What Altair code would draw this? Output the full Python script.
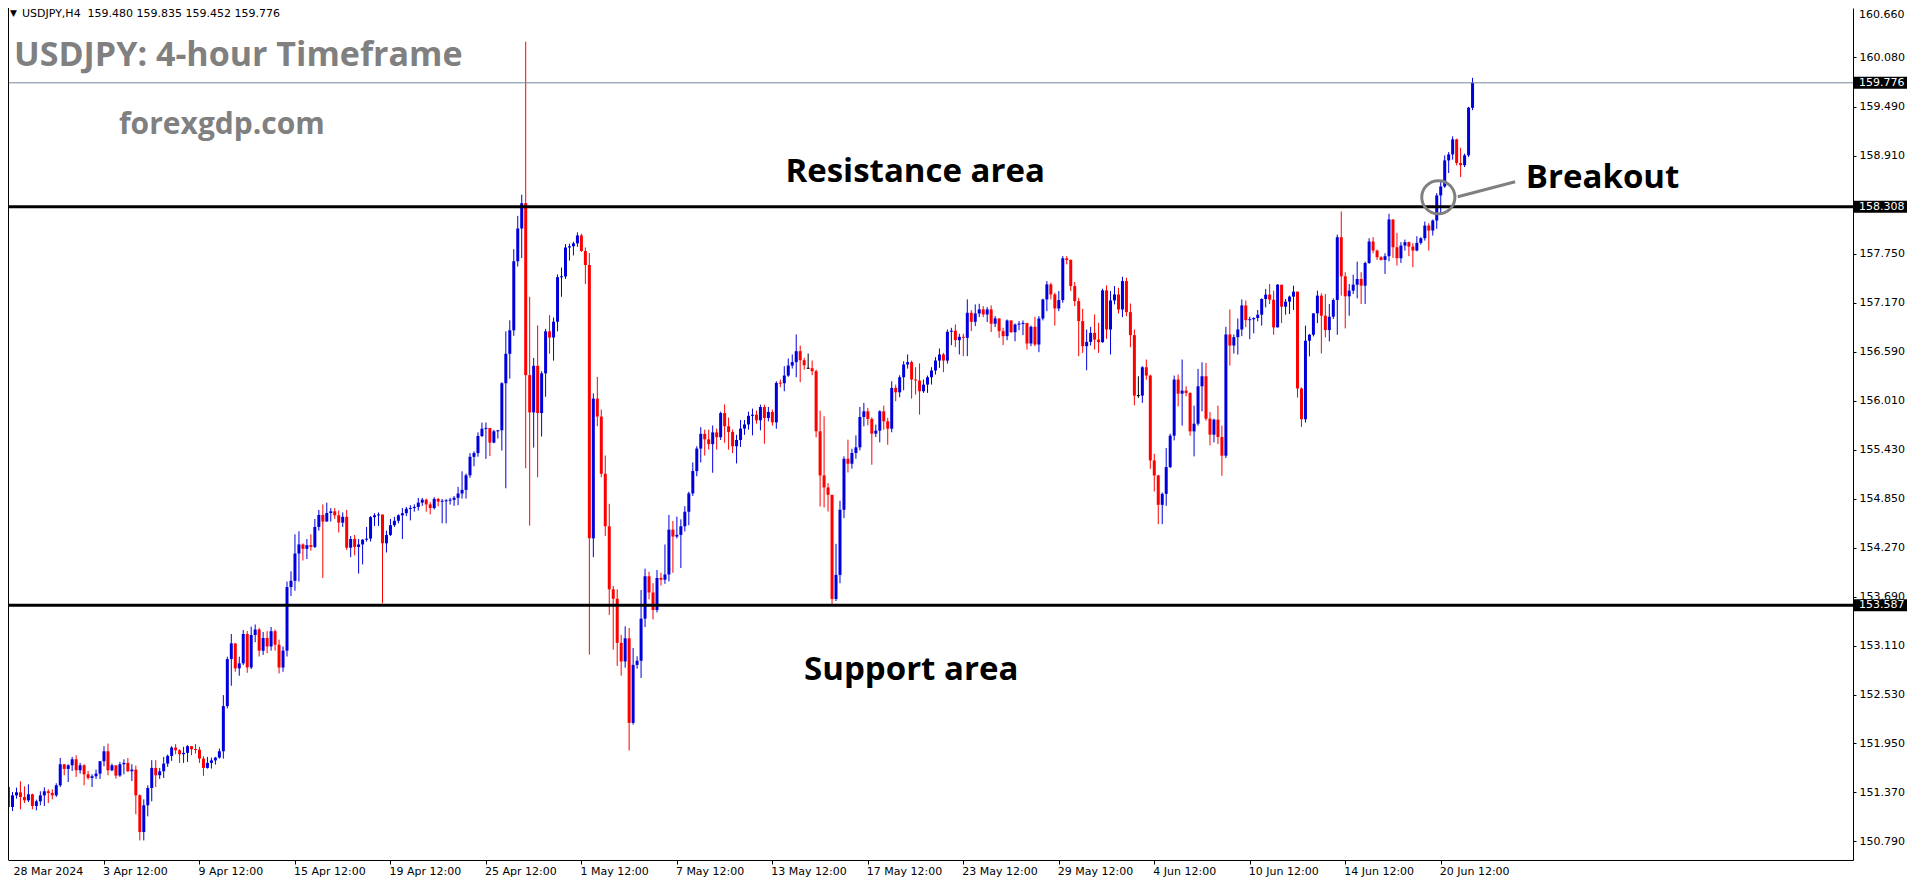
import altair as alt
import pandas as pd

# ---------------- data (USDJPY H4) ----------------
first_open = 151.435
open_overrides = {201: 156.395, 368: 159.480}

closes = [
    151.198, 151.336, 151.372, 151.316, 151.277, 151.348, 151.210, 151.265, 151.336, 151.384,
    151.364, 151.336, 151.455, 151.704, 151.649, 151.692, 151.763, 151.633, 151.692, 151.585,
    151.542, 151.562, 151.593, 151.740, 151.858, 151.633, 151.692, 151.570, 151.704, 151.720,
    151.621, 151.641, 151.336, 150.901, 151.218, 151.423, 151.661, 151.574, 151.621, 151.712,
    151.803, 151.902, 151.870, 151.823, 151.839, 151.918, 151.882, 151.876, 151.771, 151.661,
    151.720, 151.750, 151.783, 151.858, 152.393, 152.950, 153.136, 152.840, 152.899, 153.247,
    152.851, 153.235, 153.300, 153.050, 153.200, 153.100, 153.280, 153.120, 152.850, 153.050,
    153.803, 153.877, 154.200, 154.308, 154.256, 154.299, 154.278, 154.515, 154.657, 154.579,
    154.680, 154.700, 154.653, 154.566, 154.635, 154.269, 154.372, 154.278, 154.308, 154.364,
    154.377, 154.631, 154.653, 154.662, 154.321, 154.420, 154.536, 154.588, 154.653, 154.678,
    154.730, 154.739, 154.752, 154.803, 154.838, 154.782, 154.739, 154.847, 154.816, 154.822,
    154.828, 154.836, 154.860, 154.911, 154.954, 155.127, 155.346, 155.390, 155.592, 155.678,
    155.687, 155.514, 155.648, 155.660, 156.217, 156.566, 156.844, 157.662, 158.050, 158.350,
    156.313, 155.872, 156.424, 155.864, 156.334, 156.832, 156.759, 156.946, 157.474, 157.482,
    157.825, 157.840, 157.874, 157.968, 157.784, 157.617, 154.380, 156.035, 155.823, 155.145,
    154.523, 153.776, 153.665, 153.142, 152.922, 153.196, 152.194, 152.881, 152.930, 153.429,
    153.931, 153.739, 153.531, 153.911, 153.890, 153.952, 154.483, 154.401, 154.421, 154.523,
    154.695, 154.912, 155.177, 155.443, 155.618, 155.553, 155.496, 155.635, 155.578, 155.864,
    155.708, 155.639, 155.471, 155.545, 155.680, 155.729, 155.831, 155.845, 155.778, 155.936,
    155.806, 155.877, 155.754, 156.221, 156.217, 156.308, 156.427, 156.467, 156.597, 156.490,
    156.431, 156.395, 156.360, 155.648, 155.125, 154.983, 154.896, 153.662, 153.947, 154.718,
    155.323, 155.264, 155.391, 155.458, 155.818, 155.885, 155.794, 155.620, 155.656, 155.885,
    155.766, 155.679, 156.162, 156.110, 156.288, 156.439, 156.467, 156.261, 156.249, 156.122,
    156.201, 156.288, 156.368, 156.486, 156.558, 156.486, 156.827, 156.840, 156.728, 156.767,
    156.755, 157.052, 156.945, 157.044, 157.092, 157.032, 157.092, 156.922, 156.985, 156.834,
    156.775, 156.961, 156.822, 156.913, 156.921, 156.930, 156.688, 156.886, 156.676, 156.984,
    157.210, 157.388, 157.269, 157.103, 157.202, 157.697, 157.677, 157.368, 157.190, 156.953,
    156.656, 156.707, 156.814, 156.735, 156.704, 157.317, 156.854, 157.198, 157.269, 157.091,
    157.427, 157.060, 156.787, 156.071, 156.071, 156.407, 156.308, 155.303, 155.125, 154.777,
    154.907, 155.224, 155.596, 156.261, 156.094, 156.130, 156.102, 155.647, 155.738, 156.181,
    156.300, 155.798, 155.608, 155.786, 155.580, 155.359, 156.795, 156.664, 156.763, 156.854,
    157.139, 156.965, 156.975, 156.990, 157.029, 157.215, 157.267, 157.207, 156.879, 157.385,
    157.124, 157.184, 157.243, 157.302, 156.155, 155.791, 156.721, 156.792, 157.045, 157.255,
    157.017, 156.847, 157.005, 157.203, 157.947, 157.484, 157.247, 157.314, 157.385, 157.452,
    157.373, 157.642, 157.896, 157.789, 157.710, 157.678, 157.722, 158.157, 157.828, 157.698,
    157.848, 157.888, 157.836, 157.789, 157.880, 157.935, 158.085, 158.026, 158.145, 158.442,
    158.548, 158.857, 158.928, 159.106, 158.825, 158.800, 158.917, 159.482, 159.776,
]

highs = [
    151.502, 151.376, 151.427, 151.502, 151.443, 151.467, 151.356, 151.285, 151.384, 151.431,
    151.407, 151.407, 151.479, 151.779, 151.704, 151.704, 151.791, 151.811, 151.720, 151.704,
    151.625, 151.585, 151.641, 151.740, 151.918, 151.949, 151.712, 151.653, 151.732, 151.763,
    151.779, 151.704, 151.688, 151.348, 151.289, 151.455, 151.752, 151.752, 151.661, 151.791,
    151.819, 151.918, 151.942, 151.882, 151.910, 151.930, 151.918, 151.942, 151.910, 151.799,
    151.791, 151.783, 151.791, 151.890, 152.523, 152.978, 153.247, 153.136, 152.978, 153.294,
    153.283, 153.334, 153.360, 153.320, 153.270, 153.280, 153.330, 153.300, 153.180, 153.100,
    153.868, 153.989, 154.428, 154.463, 154.321, 154.372, 154.428, 154.609, 154.717, 154.782,
    154.803, 154.739, 154.739, 154.709, 154.687, 154.717, 154.407, 154.420, 154.372, 154.372,
    154.515, 154.644, 154.678, 154.687, 154.660, 154.472, 154.609, 154.635, 154.665, 154.739,
    154.752, 154.773, 154.782, 154.859, 154.859, 154.851, 154.808, 154.868, 154.859, 154.847,
    154.845, 154.860, 154.881, 154.989, 155.174, 155.148, 155.390, 155.411, 155.635, 155.752,
    155.752, 155.687, 155.665, 155.665, 156.230, 156.832, 156.963, 157.805, 158.200, 158.450,
    160.262, 157.241, 156.517, 156.902, 156.360, 156.861, 157.024, 156.996, 157.506, 157.588,
    157.866, 157.870, 157.894, 158.005, 157.988, 157.825, 157.760, 156.097, 156.293, 155.905,
    155.361, 154.789, 153.817, 153.776, 153.236, 153.338, 153.318, 153.081, 152.983, 153.768,
    154.021, 153.984, 153.849, 154.005, 153.972, 154.307, 154.658, 154.585, 154.638, 154.605,
    154.761, 154.932, 155.279, 155.471, 155.696, 155.668, 155.668, 155.717, 155.680, 155.880,
    155.966, 155.811, 155.668, 155.606, 155.782, 155.782, 155.880, 155.917, 155.893, 155.964,
    155.964, 155.936, 155.905, 156.241, 156.261, 156.419, 156.510, 156.558, 156.795, 156.664,
    156.518, 156.569, 156.486, 156.380, 155.893, 155.826, 155.034, 154.868, 154.315, 154.825,
    155.351, 155.549, 155.442, 155.600, 155.936, 155.984, 155.925, 155.814, 155.727, 155.897,
    155.952, 155.806, 156.241, 156.201, 156.312, 156.478, 156.558, 156.486, 156.407, 156.451,
    156.261, 156.308, 156.407, 156.526, 156.629, 156.577, 156.854, 156.874, 156.914, 156.803,
    156.803, 157.210, 157.084, 157.151, 157.159, 157.131, 157.119, 157.139, 157.013, 156.985,
    156.874, 156.973, 156.961, 156.925, 156.953, 156.961, 156.933, 156.901, 157.004, 157.012,
    157.218, 157.427, 157.408, 157.289, 157.309, 157.724, 157.724, 157.685, 157.416, 157.230,
    157.099, 156.854, 156.886, 157.032, 156.933, 157.337, 157.376, 157.309, 157.368, 157.348,
    157.479, 157.467, 157.162, 156.854, 156.300, 156.419, 156.498, 156.320, 155.382, 155.133,
    154.923, 155.449, 155.620, 156.308, 156.320, 156.498, 156.181, 156.110, 155.952, 156.387,
    156.466, 156.458, 155.877, 155.798, 155.952, 155.715, 156.885, 157.091, 156.795, 156.984,
    157.210, 157.198, 157.005, 156.998, 157.085, 157.223, 157.334, 157.393, 157.314, 157.393,
    157.373, 157.215, 157.255, 157.373, 157.302, 156.167, 156.899, 156.800, 157.045, 157.314,
    157.282, 157.274, 157.156, 157.223, 157.979, 158.252, 157.532, 157.393, 157.504, 157.658,
    157.532, 157.658, 157.935, 157.947, 157.801, 157.722, 157.757, 158.224, 158.157, 157.998,
    157.888, 157.919, 157.896, 157.876, 157.959, 157.947, 158.133, 158.113, 158.157, 158.469,
    158.600, 158.916, 158.956, 159.142, 159.114, 159.007, 158.937, 159.490, 159.835,
]

lows = [
    151.178, 151.150, 151.297, 151.170, 151.245, 151.257, 151.170, 151.158, 151.218, 151.210,
    151.245, 151.289, 151.317, 151.435, 151.574, 151.494, 151.625, 151.554, 151.593, 151.455,
    151.522, 151.435, 151.530, 151.530, 151.680, 151.574, 151.621, 151.534, 151.554, 151.585,
    151.613, 151.506, 151.111, 150.802, 150.802, 151.087, 151.265, 151.435, 151.530, 151.542,
    151.673, 151.744, 151.823, 151.720, 151.720, 151.732, 151.811, 151.831, 151.720, 151.566,
    151.653, 151.653, 151.700, 151.771, 151.771, 152.365, 152.634, 152.800, 152.753, 152.879,
    152.788, 152.832, 153.150, 152.980, 153.000, 153.020, 153.050, 153.050, 152.780, 152.800,
    152.980, 153.696, 153.760, 153.868, 154.118, 154.135, 154.234, 154.265, 154.472, 153.911,
    154.579, 154.579, 154.610, 154.450, 154.515, 154.243, 154.157, 154.178, 153.963, 154.071,
    154.342, 154.342, 154.527, 154.527, 153.610, 154.213, 154.407, 154.515, 154.558, 154.372,
    154.644, 154.592, 154.696, 154.709, 154.765, 154.696, 154.665, 154.722, 154.760, 154.558,
    154.558, 154.780, 154.765, 154.773, 154.851, 154.851, 155.097, 155.234, 155.347, 155.579,
    155.321, 155.355, 155.506, 155.562, 155.420, 154.973, 156.272, 156.779, 157.600, 157.700,
    155.210, 154.532, 155.455, 155.104, 155.586, 156.056, 156.566, 156.485, 156.832, 157.241,
    157.453, 157.670, 157.731, 157.833, 157.772, 157.392, 153.003, 154.156, 155.708, 155.104,
    154.409, 153.473, 153.061, 152.869, 152.754, 152.848, 151.867, 152.174, 152.836, 152.726,
    153.330, 153.657, 153.420, 153.502, 153.821, 153.841, 153.870, 153.972, 154.380, 154.029,
    154.462, 154.536, 154.883, 155.116, 155.279, 155.361, 155.431, 155.157, 155.431, 155.545,
    155.512, 155.431, 155.390, 155.267, 155.463, 155.606, 155.668, 155.600, 155.739, 155.660,
    155.501, 155.766, 155.715, 155.679, 156.170, 156.122, 156.293, 156.391, 156.288, 156.229,
    156.379, 156.387, 156.312, 155.576, 154.757, 154.746, 154.698, 153.598, 153.638, 153.848,
    154.619, 155.161, 155.205, 155.323, 155.422, 155.707, 155.719, 155.252, 155.580, 155.517,
    155.667, 155.489, 155.636, 156.004, 156.051, 156.134, 156.391, 156.035, 156.083, 155.845,
    156.103, 156.103, 156.202, 156.320, 156.399, 156.348, 156.451, 156.668, 156.645, 156.558,
    156.538, 156.538, 156.835, 156.894, 157.001, 157.001, 156.941, 156.823, 156.882, 156.755,
    156.668, 156.727, 156.814, 156.715, 156.846, 156.787, 156.617, 156.656, 156.656, 156.585,
    156.961, 157.071, 157.210, 156.901, 157.071, 157.170, 157.625, 157.309, 157.131, 156.537,
    156.577, 156.371, 156.664, 156.617, 156.577, 156.696, 156.743, 156.557, 157.151, 157.044,
    157.000, 157.012, 156.644, 155.956, 156.043, 155.984, 156.260, 155.204, 154.935, 154.548,
    154.548, 154.765, 155.212, 155.540, 155.944, 155.715, 156.063, 155.596, 155.351, 155.715,
    155.885, 155.774, 155.481, 155.517, 155.497, 155.121, 155.331, 156.427, 156.569, 156.557,
    156.775, 156.882, 156.740, 156.808, 156.950, 156.899, 157.116, 157.156, 156.792, 156.879,
    156.930, 157.029, 157.037, 157.085, 156.048, 155.700, 155.751, 156.535, 156.772, 156.930,
    156.570, 156.760, 156.713, 156.978, 156.792, 157.255, 156.867, 157.017, 157.274, 157.223,
    157.156, 157.156, 157.631, 157.757, 157.678, 157.670, 157.512, 157.662, 157.702, 157.611,
    157.642, 157.789, 157.722, 157.591, 157.781, 157.860, 157.907, 157.789, 157.967, 158.046,
    158.232, 158.532, 158.707, 158.865, 158.798, 158.659, 158.778, 158.896, 159.452,
]

x_tick_bars = [0, 24, 48, 72, 96, 120, 144, 168, 192, 216, 240, 264, 288, 312, 336, 360]
x_tick_labels = ["28 Mar 2024", "3 Apr 12:00", "9 Apr 12:00", "15 Apr 12:00", "19 Apr 12:00",
                 "25 Apr 12:00", "1 May 12:00", "7 May 12:00", "13 May 12:00", "17 May 12:00",
                 "23 May 12:00", "29 May 12:00", "4 Jun 12:00", "10 Jun 12:00", "14 Jun 12:00",
                 "20 Jun 12:00"]
y_tick_values = [160.660, 160.080, 159.490, 158.910, 157.750, 157.170, 156.590, 156.010,
                 155.430, 154.850, 154.270, 153.690, 153.110, 152.530, 151.950, 151.370, 150.790]

resistance = 158.308
support = 153.587

# annotations anchored to (bar index, price)
center_notes = ["Resistance area", "Support area"]
center_note_bar = [227.9, 226.9]
center_note_price = [158.600, 152.700]
breakout_note = ["Breakout"]
breakout_bar = [381.4]
breakout_price = [158.530]
circle_bar = [359.4]
circle_price = [158.420]
connector_bar = [364.3]
connector_bar2 = [378.7]
connector_price = [158.427]
connector_price2 = [158.604]

# ---------------- build table ----------------
assert len(closes) == len(highs) == len(lows) == 369
n = len(closes)
opens = [first_open] + closes[:-1]
for k, v in open_overrides.items():
    opens[k] = v

rows = []
for i in range(n):
    o, c = opens[i], closes[i]
    d = "up" if c > o else ("down" if c < o else "flat")
    lo, hi = min(o, c), max(o, c)
    if hi - lo < 0.012:
        m = (hi + lo) / 2
        lo, hi = m - 0.006, m + 0.006
    rows.append(dict(i=i, open=o, high=highs[i], low=lows[i], close=c, dir=d, blo=lo, bhi=hi))
df = pd.DataFrame(rows)

W, H = 1845, 852
x_scale = alt.Scale(domain=[1.125, 462.375], nice=False, zero=False)
y_scale = alt.Scale(domain=[150.570, 160.662], nice=False, zero=False)

x_axis = alt.Axis(values=x_tick_bars[1:], labels=False, ticks=True, tickSize=4, tickColor="black",
                  domainColor="black", domainWidth=1, grid=False, title=None, orient="bottom")
y_axis = alt.Axis(values=y_tick_values[1:], orient="right", format=".3f", labelFont="DejaVu Sans",
                  labelFontSize=11, labelColor="black", tickSize=3, tickColor="black",
                  domainColor="black", domainWidth=1, grid=False, title=None, labelPadding=3,
                  labelOverlap=False, labelBaseline="middle")


def X(field):
    return alt.X(field, type="quantitative", scale=x_scale, axis=x_axis)


def Y(field):
    return alt.Y(field, type="quantitative", scale=y_scale, axis=y_axis)


color = alt.Color("dir:N", scale=alt.Scale(domain=["up", "down", "flat"],
                                            range=["#0000dd", "#ff0000", "#000000"]), legend=None)

wicks = alt.Chart(df).mark_rule(strokeWidth=1).encode(x=X("i"), y=Y("low"), y2="high", color=color)
bodies = alt.Chart(df).mark_bar(width=3).encode(x=X("i"), y=Y("blo"), y2="bhi", color=color)

levels = alt.Chart(pd.DataFrame({"p": [resistance, support]})).mark_rule(
    color="black", strokeWidth=3).encode(y=Y("p"))
bid = alt.Chart(pd.DataFrame({"p": [closes[-1]]})).mark_rule(
    color="#778899", strokeWidth=1).encode(y=Y("p"))

left_border = alt.Chart(pd.DataFrame({"a": [0]})).mark_rule(color="black", strokeWidth=1).encode(
    x=alt.value(0.5), y=alt.value(0), y2=alt.value(H))

# top price label (kept inside the drawing area)
top_label = alt.Chart(pd.DataFrame({"p": y_tick_values[:1],
                                    "txt": [f"{v:.3f}" for v in y_tick_values[:1]]})).mark_text(
    align="left", baseline="middle", font="DejaVu Sans", fontSize=11, color="black", dy=7).encode(
    x=alt.value(W + 6), y=Y("p"), text="txt:N")

# price boxes on the right axis
box_prices = [closes[-1], resistance, support]
box_df = pd.DataFrame({"p": box_prices, "txt": [f"{p:.3f}" for p in box_prices]})
box_df["lo"] = box_df["p"] - 0.071
box_df["hi"] = box_df["p"] + 0.071
boxes = alt.Chart(box_df).mark_rect(color="black").encode(
    x=alt.value(W + 1), x2=alt.value(W + 54), y=Y("lo"), y2="hi")
box_text = alt.Chart(box_df).mark_text(align="left", baseline="middle", font="DejaVu Sans",
                                       fontSize=11, color="white").encode(
    x=alt.value(W + 6), y=Y("p"), text="txt:N")

# x labels
xl_df = pd.DataFrame({"b": x_tick_bars[1:], "t": x_tick_labels[1:]})
x_labels = alt.Chart(xl_df).mark_text(align="left", baseline="alphabetic", font="DejaVu Sans",
                                      fontSize=11, color="black", dx=-1).encode(
    x=X("b"), y=alt.value(H + 15), text="t:N")
x_label0 = alt.Chart(pd.DataFrame({"b": x_tick_bars[:1], "t": x_tick_labels[:1]})).mark_text(
    align="left", baseline="alphabetic", font="DejaVu Sans", fontSize=11, color="black", dx=5).encode(
    x=X("b"), y=alt.value(H + 15), text="t:N")

# header
header_txt = f"USDJPY,H4\u00a0\u00a0{opens[-1]:.3f} {highs[-1]:.3f} {lows[-1]:.3f} {closes[-1]:.3f}"
header_tri = alt.Chart(pd.DataFrame({"t": ["\u25bc"]})).mark_text(
    align="left", baseline="alphabetic", font="DejaVu Sans", fontSize=9, color="black").encode(
    x=alt.value(2), y=alt.value(8), text="t:N")
header = alt.Chart(pd.DataFrame({"t": [header_txt]})).mark_text(
    align="left", baseline="alphabetic", font="DejaVu Sans", fontSize=11, color="black").encode(
    x=alt.value(14), y=alt.value(9), text="t:N")

title = alt.Chart(pd.DataFrame({"t": ["USDJPY: 4-hour Timeframe"]})).mark_text(
    align="left", baseline="alphabetic", font="Open Sans", fontWeight="bold", fontSize=34,
    color="#808080").encode(x=alt.value(6), y=alt.value(58), text="t:N")
site = alt.Chart(pd.DataFrame({"t": ["forexgdp.com"]})).mark_text(
    align="left", baseline="alphabetic", font="Open Sans", fontWeight="bold", fontSize=30,
    color="#808080").encode(x=alt.value(111), y=alt.value(126), text="t:N")

notes = alt.Chart(pd.DataFrame({"t": center_notes, "b": center_note_bar, "p": center_note_price})).mark_text(
    align="center", baseline="alphabetic", font="Open Sans", fontWeight="bold", fontSize=33,
    color="black").encode(x=X("b"), y=Y("p"), text="t:N")
brk = alt.Chart(pd.DataFrame({"t": breakout_note, "b": breakout_bar, "p": breakout_price})).mark_text(
    align="left", baseline="alphabetic", font="Open Sans", fontWeight="bold", fontSize=33,
    color="black").encode(x=X("b"), y=Y("p"), text="t:N")

circle = alt.Chart(pd.DataFrame({"b": circle_bar, "p": circle_price})).mark_point(
    shape="circle", size=1100, filled=False, stroke="#808080", strokeWidth=3, opacity=1).encode(
    x=X("b"), y=Y("p"))
connector = alt.Chart(pd.DataFrame({"b": connector_bar, "b2": connector_bar2,
                                    "p": connector_price, "p2": connector_price2})).mark_rule(
    color="#808080", strokeWidth=3).encode(x=X("b"), x2="b2", y=Y("p"), y2="p2")

chart = alt.layer(
    wicks, bodies, levels, bid, left_border, top_label, boxes, box_text, x_labels, x_label0,
    header_tri, header, title, site, notes, brk, circle, connector
).properties(
    width=W, height=H,
    autosize=alt.AutoSizeParams(type="none"),
    padding={"left": 0, "top": 0, "right": 54, "bottom": 18},
    background="white",
).configure_view(stroke=None)

chart.save("out.html", embed_options={"renderer": "svg", "actions": False})
